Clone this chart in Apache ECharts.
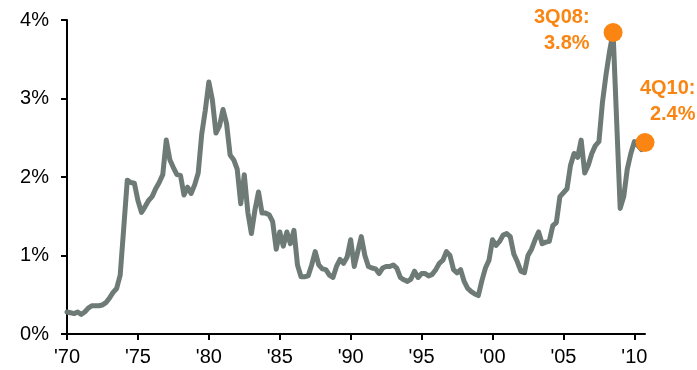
<!DOCTYPE html>
<html>
<head>
<meta charset="utf-8">
<script src="https://cdn.jsdelivr.net/npm/echarts@6/dist/echarts.min.js"></script>
<style>
  html, body { margin: 0; padding: 0; background: #fff; }
  #chart { width: 697px; height: 370px; }
</style>
</head>
<body>
<div id="chart"></div>
<script>
// Quarterly series, 1Q70 through 4Q10 (percent), one row per year
const firstYear = 1970;
const lastYear = 2010;
const values = [
  0.28, 0.27, 0.26, 0.28,   // 1970
  0.25, 0.28, 0.33, 0.36,   // 1971
  0.36, 0.36, 0.37, 0.40,   // 1972
  0.46, 0.53, 0.58, 0.75,   // 1973
  1.35, 1.96, 1.93, 1.92,   // 1974
  1.70, 1.55, 1.62, 1.70,   // 1975
  1.75, 1.85, 1.93, 2.03,   // 1976
  2.47, 2.22, 2.12, 2.03,   // 1977
  2.02, 1.77, 1.87, 1.79,   // 1978
  1.90, 2.05, 2.55, 2.85,   // 1979
  3.21, 2.98, 2.56, 2.65,   // 1980
  2.86, 2.68, 2.28, 2.22,   // 1981
  2.10, 1.66, 2.03, 1.55,   // 1982
  1.28, 1.58, 1.81, 1.54,   // 1983
  1.54, 1.52, 1.43, 1.08,   // 1984
  1.30, 1.12, 1.30, 1.15,   // 1985
  1.32, 0.88, 0.73, 0.73,   // 1986
  0.74, 0.88, 1.05, 0.88,   // 1987
  0.83, 0.82, 0.75, 0.72,   // 1988
  0.86, 0.95, 0.90, 0.98,   // 1989
  1.20, 0.86, 1.05, 1.24,   // 1990
  1.00, 0.86, 0.84, 0.83,   // 1991
  0.77, 0.84, 0.86, 0.86,   // 1992
  0.88, 0.84, 0.72, 0.69,   // 1993
  0.67, 0.70, 0.80, 0.72,   // 1994
  0.77, 0.77, 0.74, 0.76,   // 1995
  0.82, 0.90, 0.94, 1.05,   // 1996
  1.00, 0.82, 0.78, 0.82,   // 1997
  0.67, 0.58, 0.54, 0.51,   // 1998
  0.49, 0.68, 0.84, 0.94,   // 1999
  1.20, 1.13, 1.18, 1.26,   // 2000
  1.28, 1.24, 1.02, 0.92,   // 2001
  0.80, 0.78, 1.00, 1.08,   // 2002
  1.20, 1.30, 1.15, 1.17,   // 2003
  1.18, 1.38, 1.42, 1.75,   // 2004
  1.80, 1.85, 2.15, 2.30,   // 2005
  2.25, 2.47, 2.05, 2.15,   // 2006
  2.30, 2.40, 2.45, 2.95,   // 2007
  3.30, 3.60, 3.84, 2.72,   // 2008
  1.60, 1.75, 2.10, 2.30,   // 2009
  2.45, 2.40, 2.35, 2.44    // 2010
];

// Highlighted quarters
const highlights = ['3Q08', '4Q10'];

// Axis labels
const xTickLabels = ["'70", "'75", "'80", "'85", "'90", "'95", "'00", "'05", "'10"];
const yTicks = [0, 1, 2, 3, 4];

// Quarter names: 1Q70 ... 4Q10
const quarters = [];
for (let y = firstYear; y <= lastYear; y++) {
  const yy = String(y % 100).padStart(2, '0');
  for (let q = 1; q <= 4; q++) quarters.push(q + 'Q' + yy);
}

const LINE = '#6d7a76';
const ORANGE = '#fa8512';
const FONT = '"Liberation Sans", Arial, sans-serif';

const hiData = highlights.map(function (name, k) {
  const idx = quarters.indexOf(name);
  const v = values[idx];
  const text = name + ':\n' + v.toFixed(1) + '%';
  const label = k === 0
    ? { position: 'left', distance: 14, align: 'right', verticalAlign: 'middle', offset: [0, -2] }
    : { position: [60, -31], align: 'right', verticalAlign: 'middle' };
  return {
    value: [name, v],
    label: Object.assign({
      show: true,
      formatter: text,
      color: ORANGE,
      fontFamily: FONT,
      fontSize: 20,
      fontWeight: 'bold',
      lineHeight: 26
    }, label)
  };
});

const chart = echarts.init(document.getElementById('chart'), null, { renderer: 'canvas' });
chart.setOption({
  animation: false,
  backgroundColor: '#ffffff',
  grid: { left: 67, right: 52, top: 20, bottom: 36, containLabel: false },
  xAxis: {
    type: 'category',
    data: quarters,
    boundaryGap: false,
    axisLine: { lineStyle: { color: '#000', width: 2 } },
    axisTick: {
      show: true,
      interval: function (i) { return i % 20 === 0; },
      length: 6,
      lineStyle: { color: '#000', width: 2 }
    },
    axisLabel: {
      interval: function (i) { return i % 20 === 0; },
      formatter: function (v, i) { return xTickLabels[i / 20]; },
      margin: 13,
      color: '#000',
      fontFamily: FONT,
      fontSize: 20
    },
    splitLine: { show: false }
  },
  yAxis: {
    type: 'value',
    min: yTicks[0],
    max: yTicks[yTicks.length - 1],
    interval: 1,
    axisLine: { show: true, lineStyle: { color: '#000', width: 2 } },
    axisTick: { show: true, length: 6, lineStyle: { color: '#000', width: 2 } },
    axisLabel: {
      formatter: '{value}%',
      margin: 18,
      color: '#000',
      fontFamily: FONT,
      fontSize: 20
    },
    splitLine: { show: false }
  },
  series: [
    {
      type: 'line',
      data: values,
      showSymbol: false,
      symbol: 'none',
      lineStyle: { color: LINE, width: 5, join: 'round', cap: 'round' },
      clip: false
    },
    {
      type: 'scatter',
      data: hiData,
      symbolSize: 19,
      itemStyle: { color: ORANGE, opacity: 1 },
      z: 5,
      clip: false
    }
  ]
});
</script>
</body>
</html>
